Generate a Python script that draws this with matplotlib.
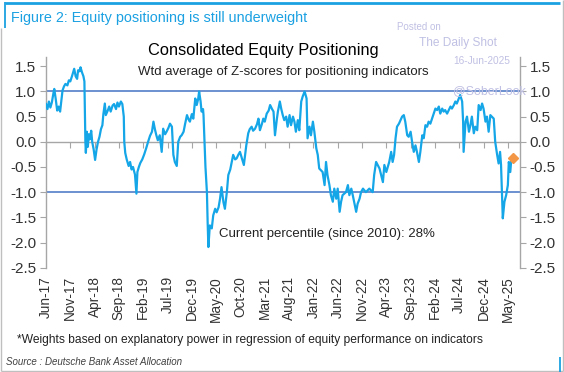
import matplotlib
matplotlib.use('Agg')
import matplotlib.pyplot as plt
from matplotlib.lines import Line2D

plt.rcParams['font.family'] = ['Liberation Sans', 'DejaVu Sans']

# months since Jun-2017 and the weighted average Z-score
months = [
    0.0, 0.3, 0.6, 0.9, 1.2, 1.5, 1.7, 2.0, 2.3, 2.6, 2.9, 3.2, 3.4, 3.7, 4.0, 4.4, 4.7, 5.0, 5.4, 5.8,
    6.1, 6.4, 6.6, 6.9, 7.1, 7.4, 7.7, 7.9, 8.1, 8.2, 8.4, 8.6, 8.8, 9.0, 9.3, 9.5, 9.8, 10.1, 10.4, 10.7,
    11.0, 11.3, 11.6, 11.8, 12.1, 12.3, 12.7, 13.0, 13.3, 13.7, 14.0, 14.4, 14.7, 15.0, 15.4, 15.7, 16.0, 16.1, 16.3, 16.6,
    17.0, 17.3, 17.6, 17.9, 18.3, 18.6, 18.8, 19.1, 19.4, 19.8, 20.2, 20.6, 21.0, 21.4, 21.8, 22.1, 22.4, 22.7, 23.0, 23.4,
    23.8, 24.1, 24.5, 24.8, 25.2, 25.5, 25.9, 26.2, 26.5, 26.9, 27.2, 27.6, 27.9, 28.3, 28.6, 29.0, 29.3, 29.6, 30.0, 30.3,
    30.7, 31.0, 31.3, 31.5, 31.8, 32.0, 32.3, 32.4, 32.6, 32.8, 33.1, 33.25, 33.4, 33.7, 34.1, 34.4, 34.8, 35.1, 35.5, 35.8,
    36.1, 36.5, 36.8, 37.2, 37.5, 37.9, 38.2, 38.5, 38.9, 39.2, 39.6, 39.9, 40.3, 40.7, 41.2, 41.6, 41.9, 42.3, 42.6, 43.0,
    43.4, 43.7, 44.0, 44.4, 44.7, 45.0, 45.4, 45.8, 46.1, 46.5, 46.8, 47.1, 47.5, 47.7, 48.1, 48.4, 48.7, 49.0, 49.4, 49.7,
    50.1, 50.4, 50.8, 51.1, 51.4, 51.8, 52.1, 52.5, 52.8, 53.2, 53.6, 53.8, 54.2, 54.5, 54.9, 55.2, 55.6, 55.9, 56.2, 56.9,
    57.3, 57.6, 57.9, 58.3, 58.6, 59.0, 59.3, 59.7, 60.0, 60.4, 60.7, 61.0, 61.7, 62.1, 62.4, 62.8, 63.1, 63.8, 64.1, 64.5,
    64.8, 65.2, 65.8, 66.5, 67.2, 67.5, 67.9, 68.6, 69.3, 69.6, 70.0, 70.6, 71.0, 71.3, 71.6, 71.9, 72.2, 72.6, 73.25, 73.6,
    73.9, 74.3, 74.6, 75.0, 75.3, 75.65, 76.0, 76.3, 76.7, 77.0, 77.4, 77.7, 78.05, 78.4, 78.7, 79.06, 79.4, 80.1, 80.45, 80.8,
    81.1, 81.5, 81.8, 82.1, 82.5, 83.2, 83.5, 83.9, 84.2, 84.5, 84.9, 85.2, 85.6, 85.8, 85.9, 86.3, 86.6, 87.0, 87.3, 87.6,
    88.0, 88.3, 88.7, 89.0, 89.4, 89.7, 90.0, 90.4, 90.7, 91.05, 91.4, 91.7, 92.1, 92.4, 92.8, 93.1, 93.4, 93.6, 93.96, 94.3,
    94.65, 95.0, 95.2, 95.5, 95.7, 96.0,
]
zscore = [
    0.75, 0.65, 0.80, 0.68, 0.78, 0.95, 1.05, 0.85, 0.62, 0.70, 0.60, 0.85, 1.02, 1.10, 1.15, 1.12, 1.22, 1.20, 1.32, 1.45,
    1.30, 1.25, 1.42, 1.40, 1.48, 1.38, 1.30, 1.20, 0.00, -0.22, 0.20, -0.10, 0.15, 0.05, 0.22, 0.00, -0.15, -0.36, -0.15, 0.00,
    0.10, 0.25, 0.33, 0.55, 0.76, 0.53, 0.62, 0.70, 0.60, 0.72, 0.75, 0.65, 0.78, 0.70, 0.80, 0.75, 0.50, 0.00, -0.22, -0.35,
    -0.48, -0.40, -0.55, -0.50, -0.65, -1.03, -0.60, -0.50, -0.42, -0.35, -0.25, -0.13, 0.00, 0.12, 0.20, 0.40, 0.25, 0.13, 0.03, 0.13,
    -0.20, 0.26, 0.15, 0.20, 0.28, 0.36, 0.30, -0.26, -0.40, -0.48, 0.00, 0.10, 0.13, 0.20, 0.35, 0.53, 0.45, 0.40, 0.55, 0.46,
    0.86, 0.73, 0.85, 1.00, 0.80, 0.60, 0.65, 0.53, 0.00, -0.50, -1.00, -1.60, -2.09, -1.66, -1.72, -1.46, -1.33, -1.40, -1.30, -1.13,
    -0.90, -1.20, -1.33, -1.00, -0.66, -0.55, -0.40, -0.26, -0.35, -0.33, -0.25, -0.20, -0.33, -0.46, -0.07, 0.17, 0.25, 0.30, 0.22, 0.26,
    0.35, 0.46, 0.23, 0.35, 0.46, 0.40, 0.56, 0.62, 0.73, 0.65, 0.60, 0.13, 0.46, 0.60, 0.80, 0.65, 0.53, 0.43, 0.50, 0.30,
    0.53, 0.33, 0.50, 0.40, 0.20, 0.43, 0.23, 0.80, 0.90, 1.00, 0.86, 0.07, 0.30, 0.13, 0.40, 0.20, -0.13, -0.26, -0.53, -0.60,
    -0.86, -0.40, -0.66, -0.86, -1.06, -1.19, -0.93, -1.13, -0.93, -1.39, -1.19, -1.06, -1.00, -0.86, -1.06, -0.93, -1.06, -1.39, -1.23, -1.13,
    -1.00, -0.93, -1.00, -0.93, -1.00, -0.66, -0.40, -0.53, -0.80, -0.46, -0.60, -0.40, -0.20, -0.40, -0.26, 0.07, 0.30, 0.36, 0.50, 0.53,
    0.40, 0.13, 0.10, 0.20, 0.00, -0.20, -0.07, -0.20, -0.40, -0.20, 0.13, 0.07, 0.33, 0.30, 0.40, 0.36, 0.46, 0.66, 0.63, 0.70,
    0.56, 0.66, 0.60, 0.63, 0.56, 0.70, 0.66, 0.73, 0.80, 0.76, 0.86, 0.93, 0.80, 0.40, -0.20, 0.40, 0.50, 0.20, 0.33, 0.50,
    0.17, 0.30, 0.23, 0.73, 0.63, 0.76, 0.66, 0.40, 0.50, 0.20, 0.53, 0.50, 0.46, 0.00, -0.26, -0.43, -0.20, -0.46, -1.52, -1.19,
    -1.06, -0.86, -0.40, -0.60, -0.36, -0.38,
]
last_month = 96.0
last_value = -0.33

tick_labels = ['Jun-17', 'Nov-17', 'Apr-18', 'Sep-18', 'Feb-19', 'Jul-19', 'Dec-19', 'May-20', 'Oct-20', 'Mar-21',
               'Aug-21', 'Jan-22', 'Jun-22', 'Nov-22', 'Apr-23', 'Sep-23', 'Feb-24', 'Jul-24', 'Dec-24', 'May-25']
tick_months = [5 * i for i in range(len(tick_labels))]
y_ticks = [1.5, 1.0, 0.5, 0.0, -0.5, -1.0, -1.5, -2.0, -2.5]
bands = [1.0, -1.0]

W, H = 564, 372
grey = '#a6a6a6'
line_blue = '#15a6e8'
title_blue = '#1ba1e2'
mark = '#c0c0e4'


def fx(px):
    return px / W


def fy(py):
    return 1 - py / H


fig = plt.figure(figsize=(W / 100, H / 100), dpi=100)
fig.patch.set_facecolor('white')
ax = fig.add_axes([fx(46), fy(267.7), (520 - 46) / W, (267.7 - 57) / H])

ax.plot(months, zscore, color=line_blue, lw=1.6, zorder=3, solid_joinstyle='round')
ax.plot([last_month], [last_value], marker='D', color='#f39646', ms=5, ls='none', zorder=4)
for b in bands:
    ax.axhline(b, color='#4472c4', lw=1.1, zorder=2)

ax.set_xlim(0, 97.5)
ax.set_ylim(-2.5, 1.684)

ax.spines['top'].set_visible(False)
ax.spines['bottom'].set_position(('data', 0))
for s in ['bottom', 'left', 'right']:
    ax.spines[s].set_color(grey)
    ax.spines[s].set_linewidth(1.0)

ax.set_xticks(tick_months)
ax.tick_params(axis='x', direction='out', length=4, color=grey, labelbottom=False)

ax.set_yticks(y_ticks)
ax.set_yticklabels([f'{v:.1f}' for v in y_ticks])
ax.tick_params(axis='y', which='both', left=True, right=True, labelleft=True, labelright=True,
               direction='out', length=4, color=grey, labelsize=11, labelcolor='#333333', pad=3)

sec = ax.secondary_xaxis(0.0)
sec.set_xticks(tick_months)
sec.set_xticklabels(tick_labels, rotation=90)
sec.tick_params(length=0, pad=6, labelsize=9.8, labelcolor='#333333')
sec.spines['bottom'].set_visible(False)

# titles and notes
fig.text(fx(11), fy(18), 'Figure 2: Equity positioning is still underweight', color=title_blue,
         fontsize=10.4, va='center', ha='left')
fig.text(fx(263), fy(50), 'Consolidated Equity Positioning', color='black', fontsize=11.8, va='center', ha='center')
fig.text(fx(283), fy(72), 'Wtd average of Z-scores for positioning indicators', color='#222222', fontsize=9.5,
         va='center', ha='center')
fig.text(fx(219), fy(234), 'Current percentile (since 2010): 28%', color='#222222', fontsize=9.5,
         va='center', ha='left')
fig.text(fx(17), fy(340), '*Weights based on explanatory power in regression of equity performance on indicators',
         color='#222222', fontsize=8.65, va='center', ha='left')
fig.text(fx(6), fy(362), 'Source : Deutsche Bank Asset Allocation', color='#404040', fontsize=7,
         style='italic', va='center', ha='left')

# watermark
fig.text(fx(397), fy(27), 'Posted on', color=mark, fontsize=7, va='center', ha='left')
fig.text(fx(419), fy(43), 'The Daily Shot', color=mark, fontsize=8.6, va='center', ha='left')
fig.text(fx(453), fy(61), '16-Jun-2025', color=mark, fontsize=7.3, va='center', ha='left')
fig.text(fx(453), fy(91), '@SoberLook', color=mark, fontsize=8.9, va='center', ha='left', zorder=5)

# frame
frame = [
    ([1, 1], [28, 370.5], '#bfbfbf', 1.0),
    ([1, 562.5], [370.5, 370.5], '#bfbfbf', 1.0),
    ([562.5, 562.5], [0, 370.5], '#bfbfbf', 1.0),
    ([5, 560], [2.5, 2.5], title_blue, 2.0),
    ([5, 5], [2, 28], title_blue, 1.3),
    ([560, 560], [357, 372], title_blue, 1.3),
]
for xs, ys, c, w in frame:
    fig.add_artist(Line2D([fx(v) for v in xs], [fy(v) for v in ys], transform=fig.transFigure,
                          color=c, lw=w, solid_capstyle='butt'))

fig.savefig('out.png', dpi=100)
